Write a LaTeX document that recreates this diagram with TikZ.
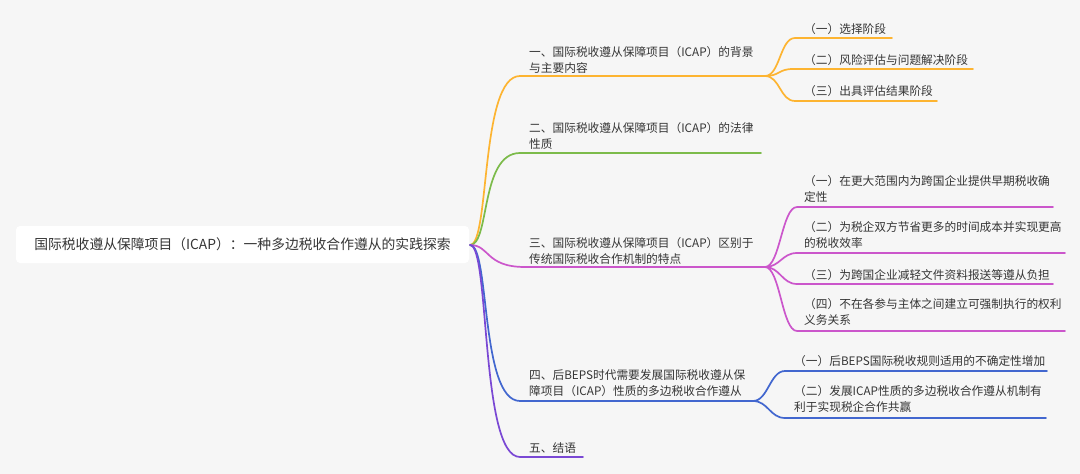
\documentclass[tikz,border=0pt]{standalone}
\usepackage{fontspec}
\setmainfont{Noto Sans CJK SC}
\definecolor{bg}{HTML}{F6F6F6}
\definecolor{txtc}{HTML}{353535}
\definecolor{corange}{HTML}{FDB431}
\definecolor{cgreen}{HTML}{7CBB4A}
\definecolor{cmagenta}{HTML}{CB56CB}
\definecolor{cblue}{HTML}{4267CF}
\definecolor{cpurple}{HTML}{7A48D4}
\tikzset{
  txt/.style={font=\fontsize{11.7}{16}\selectfont, text=txtc, inner sep=0pt, anchor=base west, align=left},
  rootbox/.style={fill=white, rounded corners=4pt, minimum width=453pt, minimum height=37pt, inner sep=0pt,
    font=\fontsize{13.8}{16}\selectfont, text=txtc},
  conn/.style={line width=1.7pt, line cap=round},
  oline/.style={conn, draw=corange},
  gline/.style={conn, draw=cgreen},
  mline/.style={conn, draw=cmagenta},
  bline/.style={conn, draw=cblue},
  pline/.style={conn, draw=cpurple},
}
\begin{document}
\begin{tikzpicture}[x=1pt,y=-1pt]
\fill[bg] (0,0) rectangle (1080,474);
\useasboundingbox (0,0) rectangle (1080,474);

% coordinates
\coordinate (r0) at (470,245);
\coordinate (b1s) at (520,76);  \coordinate (b1f) at (765,76);
\coordinate (b2s) at (520,153); \coordinate (b2e) at (761,153);
\coordinate (b3s) at (525,267); \coordinate (b3f) at (765,267);
\coordinate (b4s) at (520,401); \coordinate (b4f) at (753,401);
\coordinate (b5s) at (520,457); \coordinate (b5e) at (583,457);

\coordinate (c11s) at (795,38);  \coordinate (c11e) at (892,38);
\coordinate (c12s) at (793,69);  \coordinate (c12e) at (973,69);
\coordinate (c13s) at (795,101); \coordinate (c13e) at (937,101);

\coordinate (c31s) at (797,207); \coordinate (c31e) at (1053,207);
\coordinate (c32s) at (797,253); \coordinate (c32e) at (1065,253);
\coordinate (c33s) at (797,284); \coordinate (c33e) at (1053,284);
\coordinate (c34s) at (797,331); \coordinate (c34e) at (1065,331);

\coordinate (c41s) at (785,371); \coordinate (c41e) at (1047,371);
\coordinate (c42s) at (785,418); \coordinate (c42e) at (1046,418);

% main branches
\draw[oline] (r0) .. controls +(20,0) and +(-40,0) .. (b1s) -- (b1f);
\draw[gline] (r0) .. controls +(20,0) and +(-40,0) .. (b2s) -- (b2e);
\draw[mline] (r0) .. controls +(20,0) and +(-40,0) .. (b3s) -- (b3f);
\draw[bline] (r0) .. controls +(20,0) and +(-40,0) .. (b4s) -- (b4f);
\draw[pline] (r0) .. controls +(20,0) and +(-40,0) .. (b5s) -- (b5e);

% children
\draw[oline] (b1f) .. controls +(15,0) and +(-15,0) .. (c11s) -- (c11e);
\draw[oline] (b1f) .. controls +(15,0) and +(-15,0) .. (c12s) -- (c12e);
\draw[oline] (b1f) .. controls +(15,0) and +(-15,0) .. (c13s) -- (c13e);

\draw[mline] (b3f) .. controls +(15,0) and +(-15,0) .. (c31s) -- (c31e);
\draw[mline] (b3f) .. controls +(15,0) and +(-15,0) .. (c32s) -- (c32e);
\draw[mline] (b3f) .. controls +(15,0) and +(-15,0) .. (c33s) -- (c33e);
\draw[mline] (b3f) .. controls +(15,0) and +(-15,0) .. (c34s) -- (c34e);

\draw[bline] (b4f) .. controls +(15,0) and +(-15,0) .. (c41s) -- (c41e);
\draw[bline] (b4f) .. controls +(15,0) and +(-15,0) .. (c42s) -- (c42e);

% root
\node[rootbox] (root) at (242.5,244.5) {国际税收遵从保障项目（ICAP）：一种多边税收合作遵从的实践探索};

% branch texts (base anchor = baseline of last line)
\node[txt] (t1) at (529,72.4) {一、国际税收遵从保障项目（ICAP）的背景\\与主要内容};
\node[txt] (t2) at (529,148.4) {二、国际税收遵从保障项目（ICAP）的法律\\性质};
\node[txt] (t3) at (529,263) {三、国际税收遵从保障项目（ICAP）区别于\\传统国际税收合作机制的特点};
\node[txt] (t4) at (529,395.4) {四、后BEPS时代需要发展国际税收遵从保\\障项目（ICAP）性质的多边税收合作遵从};
\node[txt] (t5) at (529,452.4) {五、结语};

% child texts
\node[txt] (t11) at (804,33.4) {（一）选择阶段};
\node[txt] (t12) at (804,64.4) {（二）风险评估与问题解决阶段};
\node[txt] (t13) at (804,95.4) {（三）出具评估结果阶段};

\node[txt] (t31) at (804,201.4) {（一）在更大范围内为跨国企业提供早期税收确\\定性};
\node[txt] (t32) at (804,247.4) {（二）为税企双方节省更多的时间成本并实现更高\\的税收效率};
\node[txt] (t33) at (804,279.4) {（三）为跨国企业减轻文件资料报送等遵从负担};
\node[txt] (t34) at (804,324.4) {（四）不在各参与主体之间建立可强制执行的权利\\义务关系};

\node[txt] (t41) at (794,365.4) {（一）后BEPS国际税收规则适用的不确定性增加};
\node[txt] (t42) at (794,411.4) {（二）发展ICAP性质的多边税收合作遵从机制有\\利于实现税企合作共赢};
\end{tikzpicture}
\end{document}
